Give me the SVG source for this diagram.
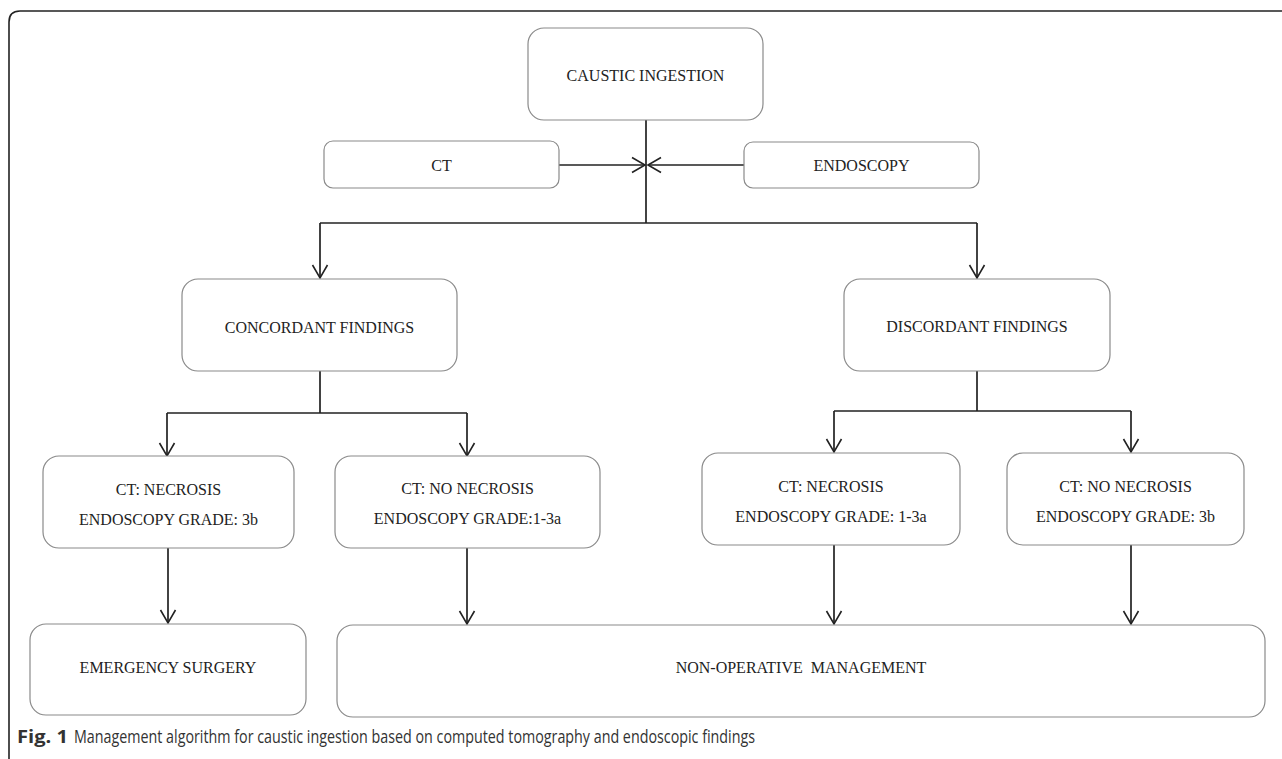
<svg xmlns="http://www.w3.org/2000/svg" width="1282" height="759" viewBox="0 0 1282 759">
<style>
.box{fill:#fff;stroke:#8a8a8a;stroke-width:1.2}
.lbl{font-family:"Liberation Serif","Times New Roman",serif;font-size:16px;fill:#222;text-anchor:middle}
.conn{fill:none;stroke:#222;stroke-width:1.7}
.cap{font-family:"Open Sans","Liberation Sans",sans-serif;font-size:18px;fill:#333}
</style>
<defs>
<marker id="arr" markerUnits="userSpaceOnUse" viewBox="-15 -9 17 18" refX="0" refY="0" markerWidth="17" markerHeight="18" orient="auto">
<path d="M-13,-7.5 L0,0 L-13,7.5" fill="none" stroke="#222" stroke-width="1.6"/>
</marker>
</defs>
<rect width="1282" height="759" fill="#fff"/>
<path d="M9,759 V22 Q9,11 20,11 H1282" fill="none" stroke="#222" stroke-width="1.6"/>

<g id="connectors">
<path class="conn" d="M646,120 V223" stroke-width="2"/>
<path class="conn" d="M559,165 H645" marker-end="url(#arr)"/>
<path class="conn" d="M744,165 H648" marker-end="url(#arr)"/>
<path class="conn" d="M320,223 H977" stroke-width="2"/>
<path class="conn" d="M320,223 V278" marker-end="url(#arr)"/>
<path class="conn" d="M977,223 V278" marker-end="url(#arr)"/>
<path class="conn" d="M320,371 V413 M167,413 H467"/>
<path class="conn" d="M167,413 V456" marker-end="url(#arr)"/>
<path class="conn" d="M467,413 V456" marker-end="url(#arr)"/>
<path class="conn" d="M977,371 V411 M834,411 H1131"/>
<path class="conn" d="M834,411 V452" marker-end="url(#arr)"/>
<path class="conn" d="M1131,411 V452" marker-end="url(#arr)"/>
<path class="conn" d="M168,548 V623" marker-end="url(#arr)"/>
<path class="conn" d="M467,548 V624" marker-end="url(#arr)"/>
<path class="conn" d="M834,545 V624" marker-end="url(#arr)"/>
<path class="conn" d="M1131,545 V624" marker-end="url(#arr)"/>
</g>

<g id="caustic">
<rect class="box" x="528" y="28" width="235" height="92" rx="16"/>
<text class="lbl" x="645.5" y="81">CAUSTIC INGESTION</text>
</g>
<g id="ct">
<rect class="box" x="324" y="141" width="235" height="47" rx="9"/>
<text class="lbl" x="441.5" y="171">CT</text>
</g>
<g id="endoscopy">
<rect class="box" x="744" y="142" width="235" height="46" rx="9"/>
<text class="lbl" x="861.5" y="171">ENDOSCOPY</text>
</g>
<g id="concordant">
<rect class="box" x="182" y="279" width="275" height="92" rx="16"/>
<text class="lbl" x="319.5" y="333">CONCORDANT FINDINGS</text>
</g>
<g id="discordant">
<rect class="box" x="844" y="279" width="266" height="92" rx="16"/>
<text class="lbl" x="977" y="332">DISCORDANT FINDINGS</text>
</g>
<g id="ct-necrosis-3b">
<rect class="box" x="43" y="456" width="251" height="92" rx="16"/>
<text class="lbl" x="168.5" y="495">CT: NECROSIS</text>
<text class="lbl" x="168.5" y="525">ENDOSCOPY GRADE: 3b</text>
</g>
<g id="ct-no-necrosis-1-3a">
<rect class="box" x="335" y="456" width="265" height="92" rx="16"/>
<text class="lbl" x="467.5" y="494">CT: NO NECROSIS</text>
<text class="lbl" x="467.5" y="524">ENDOSCOPY GRADE:1-3a</text>
</g>
<g id="ct-necrosis-1-3a">
<rect class="box" x="702" y="453" width="258" height="92" rx="16"/>
<text class="lbl" x="831" y="492">CT: NECROSIS</text>
<text class="lbl" x="831" y="522">ENDOSCOPY GRADE: 1-3a</text>
</g>
<g id="ct-no-necrosis-3b">
<rect class="box" x="1007" y="453" width="237" height="92" rx="16"/>
<text class="lbl" x="1125.5" y="492">CT: NO NECROSIS</text>
<text class="lbl" x="1125.5" y="522">ENDOSCOPY GRADE: 3b</text>
</g>
<g id="emergency">
<rect class="box" x="30" y="624" width="276" height="91" rx="16"/>
<text class="lbl" x="168" y="673">EMERGENCY SURGERY</text>
</g>
<g id="nonoperative">
<rect class="box" x="337" y="625" width="928" height="92" rx="16"/>
<text class="lbl" x="801" y="673" xml:space="preserve">NON-OPERATIVE  MANAGEMENT</text>
</g>
<text class="cap" x="17" y="743" font-weight="bold" textLength="51" lengthAdjust="spacingAndGlyphs">Fig. 1</text>
<text class="cap" x="74" y="743" textLength="681" lengthAdjust="spacingAndGlyphs">Management algorithm for caustic ingestion based on computed tomography and endoscopic findings</text>
</svg>
